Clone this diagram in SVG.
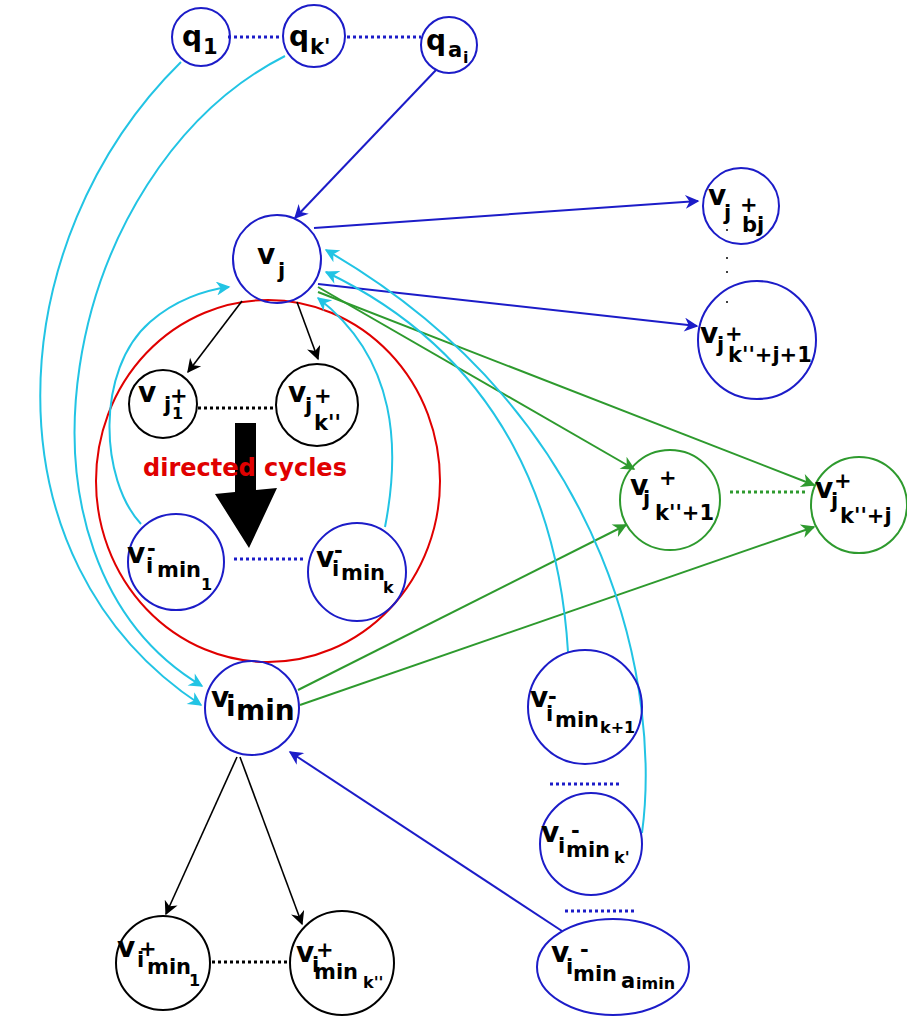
<svg xmlns="http://www.w3.org/2000/svg" width="907" height="1021" viewBox="0 0 907 1021">
  <style>
    text { font-family: "DejaVu Sans", "Liberation Sans", sans-serif; font-weight: bold; fill: #000; }
    .m { font-size: 28px; }
    .s { font-size: 21px; }
    .t { font-size: 16px; }
    .nb { fill: none; stroke: #1c1cc8; stroke-width: 2; }
    .nk { fill: none; stroke: #000; stroke-width: 2; }
    .ng { fill: none; stroke: #2e9a2e; stroke-width: 2; }
    .blue { fill: none; stroke: #1c1cc8; stroke-width: 2; }
    .cyan { fill: none; stroke: #22c4e4; stroke-width: 2; }
    .green { fill: none; stroke: #2e9a2e; stroke-width: 2; }
    .black { fill: none; stroke: #000; stroke-width: 1.6; }
    .dotb { stroke: #1c1cc8; stroke-width: 3; stroke-dasharray: 3 3; }
    .dotk { stroke: #000; stroke-width: 3; stroke-dasharray: 3 3; }
    .dotg { stroke: #2e9a2e; stroke-width: 3; stroke-dasharray: 3 3; }
    .cyc { fill: #e00000; font-size: 24px; }
  </style>
  <defs>
    <marker id="ah-blue" viewBox="0 0 10 10" refX="9" refY="5" markerWidth="17" markerHeight="14" markerUnits="userSpaceOnUse" orient="auto">
      <path d="M0,0 L10,5 L0,10 L3,5 z" fill="#1c1cc8"/>
    </marker>
    <marker id="ah-cyan" viewBox="0 0 10 10" refX="9" refY="5" markerWidth="17" markerHeight="14" markerUnits="userSpaceOnUse" orient="auto">
      <path d="M0,0 L10,5 L0,10 L3,5 z" fill="#22c4e4"/>
    </marker>
    <marker id="ah-green" viewBox="0 0 10 10" refX="9" refY="5" markerWidth="17" markerHeight="14" markerUnits="userSpaceOnUse" orient="auto">
      <path d="M0,0 L10,5 L0,10 L3,5 z" fill="#2e9a2e"/>
    </marker>
    <marker id="ah-black" viewBox="0 0 10 10" refX="9" refY="5" markerWidth="17" markerHeight="14" markerUnits="userSpaceOnUse" orient="auto">
      <path d="M0,0 L10,5 L0,10 L3,5 z" fill="#000"/>
    </marker>
  </defs>
  <rect width="907" height="1021" fill="#fff"/>

  <!-- region of directed cycles -->
  <g id="cycle-region">
    <ellipse cx="268" cy="481" rx="172" ry="181" fill="none" stroke="#e00000" stroke-width="2"/>
    <polygon points="235,423 256,423 256,490 277,488 249,548 215,494 235,492" fill="#000"/>
    <text class="cyc" x="143" y="476">directed cycles</text>
  </g>

  <!-- connectors -->
  <g id="connectors">
    <!-- dotted ellipsis links -->
    <line class="dotb" x1="228" y1="37" x2="282" y2="37"/>
    <line class="dotb" x1="347" y1="37" x2="421" y2="37"/>
    <line class="dotk" x1="198" y1="408" x2="276" y2="408"/>
    <line class="dotb" x1="234" y1="559" x2="306" y2="559"/>
    <line class="dotg" x1="730" y1="492" x2="806" y2="492"/>
    <line class="dotb" x1="550" y1="784" x2="620" y2="784"/>
    <line class="dotb" x1="565" y1="911" x2="634" y2="911"/>
    <line class="dotk" x1="212" y1="962" x2="288" y2="962"/>
    <g fill="#000">
      <circle cx="727" cy="230" r="1"/>
      <circle cx="727" cy="258" r="1"/>
      <circle cx="727" cy="272" r="1"/>
      <circle cx="727" cy="302" r="1"/>
    </g>

    <!-- blue edges -->
    <path class="blue" d="M436,70 L295,218" marker-end="url(#ah-blue)"/>
    <path class="blue" d="M314,228 L698,201" marker-end="url(#ah-blue)"/>
    <path class="blue" d="M318,284 L697,326" marker-end="url(#ah-blue)"/>
    <path class="blue" d="M562,931 L290,752" marker-end="url(#ah-blue)"/>

    <!-- green edges -->
    <path class="green" d="M318,287 L634,469" marker-end="url(#ah-green)"/>
    <path class="green" d="M318,292 L814,485" marker-end="url(#ah-green)"/>
    <path class="green" d="M298,690 L626,525" marker-end="url(#ah-green)"/>
    <path class="green" d="M300,705 L814,527" marker-end="url(#ah-green)"/>

    <!-- black edges -->
    <path class="black" d="M242,301 L188,372" marker-end="url(#ah-black)"/>
    <path class="black" d="M297,302 L318,359" marker-end="url(#ah-black)"/>
    <path class="black" d="M237,757 L166,914" marker-end="url(#ah-black)"/>
    <path class="black" d="M240,757 L302,924" marker-end="url(#ah-black)"/>

    <!-- cyan edges -->
    <path class="cyan" d="M181,62 C0,240 -20,560 201,705" marker-end="url(#ah-cyan)"/>
    <path class="cyan" d="M285,56 C60,170 -10,560 202,686" marker-end="url(#ah-cyan)"/>
    <path class="cyan" d="M141,524 C100,480 95,370 150,322 C175,300 205,290 229,287" marker-end="url(#ah-cyan)"/>
    <path class="cyan" d="M385,527 C400,450 398,360 318,298" marker-end="url(#ah-cyan)"/>
    <path class="cyan" d="M568,652 C560,520 510,360 326,272" marker-end="url(#ah-cyan)"/>
    <path class="cyan" d="M642,833 C660,700 620,420 326,250" marker-end="url(#ah-cyan)"/>
  </g>

  <!-- nodes -->
  <g id="q1">
    <circle class="nb" cx="201" cy="37" r="29"/>
    <text><tspan class="m" x="182" y="46">q</tspan><tspan class="s" x="203" y="54">1</tspan></text>
  </g>
  <g id="qk1">
    <circle class="nb" cx="314" cy="36" r="31"/>
    <text><tspan class="m" x="289" y="46">q</tspan><tspan class="s" x="310" y="54">k'</tspan></text>
  </g>
  <g id="qai">
    <circle class="nb" cx="449" cy="45" r="28"/>
    <text><tspan class="m" x="426" y="50">q</tspan><tspan class="s" x="448" y="57">a</tspan><tspan class="t" x="463" y="63">i</tspan></text>
  </g>
  <g id="vj">
    <circle class="nb" cx="277" cy="259" r="44"/>
    <text><tspan class="m" x="257" y="264">v</tspan><tspan class="s" x="278" y="278">j</tspan></text>
  </g>
  <g id="vj-plus-bj">
    <circle class="nb" cx="741" cy="206" r="38"/>
    <text><tspan class="m" x="708" y="205">v</tspan><tspan class="s" x="724" y="220">j</tspan><tspan class="s" x="740" y="212">+</tspan><tspan class="s" x="742" y="232">bj</tspan></text>
  </g>
  <g id="vj-plus-k2j1">
    <circle class="nb" cx="757" cy="340" r="59"/>
    <text><tspan class="m" x="700" y="343">v</tspan><tspan class="s" x="717" y="352">j</tspan><tspan class="s" x="725" y="341">+</tspan><tspan class="s" x="728" y="362">k''+j+1</tspan></text>
  </g>
  <g id="vj-plus-1">
    <circle class="nk" cx="163" cy="404" r="34"/>
    <text><tspan class="m" x="138" y="402">v</tspan><tspan class="s" x="164" y="412">j</tspan><tspan class="s" x="170" y="403">+</tspan><tspan class="t" x="172" y="419">1</tspan></text>
  </g>
  <g id="vj-plus-k2">
    <circle class="nk" cx="317" cy="405" r="41"/>
    <text><tspan class="m" x="288" y="402">v</tspan><tspan class="s" x="305" y="413">j</tspan><tspan class="s" x="314" y="403">+</tspan><tspan class="s" x="314" y="430">k''</tspan></text>
  </g>
  <g id="vimin-minus-1">
    <circle class="nb" cx="176" cy="562" r="48"/>
    <text><tspan class="m" x="127" y="563">v</tspan><tspan class="s" x="146" y="573">i</tspan><tspan class="s" x="147" y="556">-</tspan><tspan class="s" x="157" y="577">min</tspan><tspan class="t" x="201" y="590">1</tspan></text>
  </g>
  <g id="vimin-minus-k">
    <circle class="nb" cx="357" cy="572" r="49"/>
    <text><tspan class="m" x="316" y="567">v</tspan><tspan class="s" x="332" y="576">i</tspan><tspan class="s" x="334" y="558">-</tspan><tspan class="s" x="341" y="580">min</tspan><tspan class="t" x="383" y="593">k</tspan></text>
  </g>
  <g id="vj-plus-k2-1">
    <circle class="ng" cx="670" cy="500" r="50"/>
    <text><tspan class="m" x="630" y="495">v</tspan><tspan class="s" x="643" y="506">j</tspan><tspan class="s" x="659" y="485">+</tspan><tspan class="s" x="655" y="520">k''+1</tspan></text>
  </g>
  <g id="vj-plus-k2-j">
    <circle class="ng" cx="859" cy="505" r="48"/>
    <text><tspan class="m" x="815" y="498">v</tspan><tspan class="s" x="831" y="508">j</tspan><tspan class="s" x="834" y="488">+</tspan><tspan class="s" x="840" y="523">k''+j</tspan></text>
  </g>
  <g id="vimin">
    <circle class="nb" cx="252" cy="708" r="47"/>
    <text><tspan class="m" x="211" y="707">v</tspan><tspan class="m" x="226" y="716">i</tspan><tspan class="m" x="236" y="720">min</tspan></text>
  </g>
  <g id="vimin-minus-k1">
    <circle class="nb" cx="585" cy="707" r="57"/>
    <text><tspan class="m" x="530" y="707">v</tspan><tspan class="s" x="546" y="721">i</tspan><tspan class="s" x="548" y="704">-</tspan><tspan class="s" x="555" y="727">min</tspan><tspan class="t" x="600" y="733">k+1</tspan></text>
  </g>
  <g id="vimin-minus-k1p">
    <circle class="nb" cx="591" cy="844" r="51"/>
    <text><tspan class="m" x="541" y="842">v</tspan><tspan class="s" x="558" y="853">i</tspan><tspan class="s" x="571" y="838">-</tspan><tspan class="s" x="566" y="857">min</tspan><tspan class="t" x="614" y="863">k'</tspan></text>
  </g>
  <g id="vimin-minus-aimin">
    <ellipse class="nb" cx="613" cy="967" rx="76" ry="48"/>
    <text><tspan class="m" x="551" y="962">v</tspan><tspan class="s" x="566" y="974">i</tspan><tspan class="s" x="580" y="957">-</tspan><tspan class="s" x="573" y="981">min</tspan><tspan class="s" x="621" y="988">a</tspan><tspan class="t" x="636" y="989">imin</tspan></text>
  </g>
  <g id="vimin-plus-1">
    <circle class="nk" cx="163" cy="963" r="47"/>
    <text><tspan class="m" x="117" y="957">v</tspan><tspan class="s" x="137" y="967">i</tspan><tspan class="s" x="139" y="956">+</tspan><tspan class="s" x="147" y="974">min</tspan><tspan class="t" x="189" y="986">1</tspan></text>
  </g>
  <g id="vimin-plus-k2">
    <circle class="nk" cx="342" cy="963" r="52"/>
    <text><tspan class="m" x="296" y="962">v</tspan><tspan class="s" x="312" y="972">i</tspan><tspan class="s" x="316" y="957">+</tspan><tspan class="s" x="314" y="979">min</tspan><tspan class="t" x="363" y="988">k''</tspan></text>
  </g>
</svg>
